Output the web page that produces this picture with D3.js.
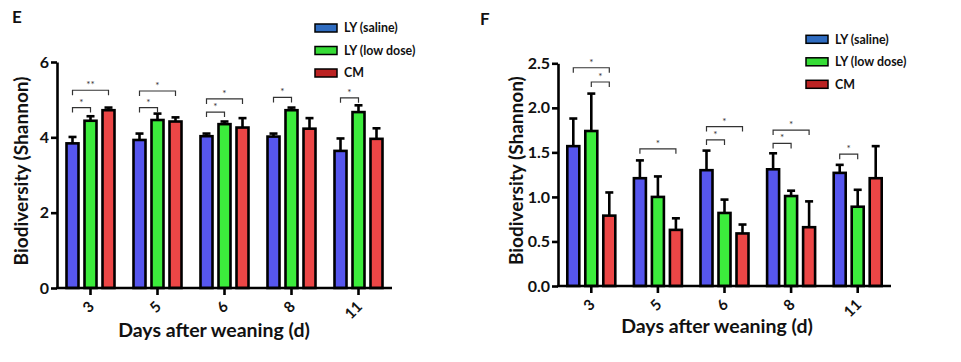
<!DOCTYPE html>
<html>
<head>
<meta charset="utf-8">
<script src="https://cdn.jsdelivr.net/npm/d3@7"></script>
<style>
  body { margin: 0; background: #fff; }
  svg { font-family: Lato, 'Open Sans', sans-serif; font-weight: 700; }
</style>
</head>
<body>
<div id="chart"></div>
<script>
// Data
const days = ['3', '5', '6', '8', '11']
const seriesNames = ['LY (saline)', 'LY (low dose)', 'CM']

// Panel E (mean and error above mean)
const eSaline = [3.84, 3.93, 4.03, 4.02, 3.64]
const eSalineErr = [0.17, 0.17, 0.07, 0.08, 0.33]
const eLow = [4.44, 4.46, 4.35, 4.72, 4.67]
const eLowErr = [0.12, 0.17, 0.07, 0.07, 0.18]
const eCm = [4.72, 4.42, 4.26, 4.23, 3.96]
const eCmErr = [0.07, 0.11, 0.25, 0.28, 0.28]
const eTicks = [0, 2, 4, 6]
// [day, from series, to series, y, label]
const eSig = [
  ['3', 0, 1, 4.79, '*'], ['3', 0, 2, 5.25, '**'],
  ['5', 0, 1, 4.79, '*'], ['5', 0, 2, 5.23, '*'],
  ['6', 0, 1, 4.67, '*'], ['6', 0, 2, 5.02, '*'],
  ['8', 0, 1, 5.06, '*'],
  ['11', 0, 1, 5.05, '*'],
]

// Panel F
const fSaline = [1.57, 1.21, 1.30, 1.31, 1.27]
const fSalineErr = [0.31, 0.20, 0.22, 0.18, 0.09]
const fLow = [1.74, 1.00, 0.82, 1.01, 0.89]
const fLowErr = [0.42, 0.23, 0.15, 0.06, 0.19]
const fCm = [0.79, 0.63, 0.59, 0.66, 1.21]
const fCmErr = [0.26, 0.13, 0.10, 0.29, 0.36]
const fTicks = [0, 0.5, 1.0, 1.5, 2.0, 2.5]
const fSig = [
  ['3', 0, 2, 2.45, '*'], ['3', 1, 2, 2.29, '*'],
  ['5', 0, 2, 1.54, '*'],
  ['6', 0, 1, 1.64, '*'], ['6', 0, 2, 1.79, '*'],
  ['8', 0, 1, 1.60, '*'], ['8', 0, 2, 1.75, '*'],
  ['11', 0, 1, 1.48, '*'],
]

const barColors = ['#5656ee', '#3cec3c', '#ec4646']
const legendColors = ['#2f6cc0', '#36dc36', '#bb2222']

const svg = d3.select('#chart')
  .append('svg')
  .attr('width', 961)
  .attr('height', 362)

function drawPanel(p) {
  const g = svg.append('g')

  const xScale = d3.scaleBand()
    .domain(days)
    .range([p.x0, p.x1])

  const inner = d3.scaleBand()
    .domain(d3.range(3))
    .range([-27, 27])

  const yScale = d3.scaleLinear()
    .domain(p.domain)
    .range([p.y0, p.y1])

  const rows = []
  p.means.forEach((arr, s) => {
    arr.forEach((v, i) => {
      rows.push({ day: days[i], s: s, v: v, err: p.errs[s][i] })
    })
  })

  const cx = (day, s) => xScale(day) + xScale.bandwidth() / 2 + inner(s) + inner.bandwidth() / 2

  // Error bars (upper only)
  const eb = g.append('g')
    .selectAll('g')
    .data(rows)
    .join('g')
    .attr('stroke', '#000')
    .attr('stroke-width', 2.6)
  eb.append('line')
    .attr('x1', d => cx(d.day, d.s))
    .attr('x2', d => cx(d.day, d.s))
    .attr('y1', d => yScale(d.v))
    .attr('y2', d => yScale(d.v + d.err))
  eb.append('line')
    .attr('x1', d => cx(d.day, d.s) - 4)
    .attr('x2', d => cx(d.day, d.s) + 4)
    .attr('y1', d => yScale(d.v + d.err))
    .attr('y2', d => yScale(d.v + d.err))

  // Bars
  g.append('g')
    .selectAll('rect')
    .data(rows)
    .join('rect')
    .attr('x', d => xScale(d.day) + xScale.bandwidth() / 2 + inner(d.s) + 3)
    .attr('y', d => yScale(d.v))
    .attr('width', inner.bandwidth() - 6)
    .attr('height', d => yScale(p.domain[0]) - yScale(d.v))
    .attr('fill', d => barColors[d.s])
    .attr('stroke', '#000')
    .attr('stroke-width', 2.6)

  // Axes
  const yAxis = d3.axisLeft(yScale)
    .tickValues(p.ticks)
    .tickFormat(p.fmt)
    .tickSize(6)
    .tickSizeOuter(0)
    .tickPadding(2)
  const yg = g.append('g')
    .attr('transform', `translate(${p.x0}, 0)`)
    .call(yAxis)
  yg.selectAll('path, line').attr('stroke', '#000').attr('stroke-width', 2.6)
  yg.selectAll('text')
    .attr('font-size', 16)
    .attr('font-weight', 700)
    .attr('font-family', 'Lato, sans-serif')
    .attr('fill', '#111')

  const xAxis = d3.axisBottom(xScale)
    .tickSize(7)
    .tickSizeOuter(0)
  const xg = g.append('g')
    .attr('transform', `translate(0, ${yScale(p.domain[0])})`)
    .call(xAxis)
  xg.select('.domain').attr('d', `M${p.x0 - 1},0H${p.x1}`)
  xg.selectAll('path, line').attr('stroke', '#000').attr('stroke-width', 2.6)
  xg.selectAll('text')
    .attr('font-size', 15)
    .attr('font-weight', 700)
    .attr('font-family', 'Lato, sans-serif')
    .attr('fill', '#111')
    .attr('text-anchor', 'end')
    .attr('x', 0)
    .attr('y', 0)
    .attr('dy', '0.35em')
    .attr('transform', 'translate(1, 16) rotate(-45)')

  // Significance brackets
  const sg = g.append('g')
    .selectAll('g')
    .data(p.sig)
    .join('g')
  sg.append('path')
    .attr('d', d => {
      const a = cx(d[0], d[1])
      const b = cx(d[0], d[2])
      const y = yScale(d[3])
      return `M${a},${y + 5}V${y}H${b}V${y + 5}`
    })
    .attr('fill', 'none')
    .attr('stroke', '#333')
    .attr('stroke-width', 1.2)
  sg.append('text')
    .attr('x', d => (cx(d[0], d[1]) + cx(d[0], d[2])) / 2)
    .attr('y', d => yScale(d[3]) - 2)
    .attr('text-anchor', 'middle')
    .attr('font-size', 10)
    .attr('font-weight', 400)
    .attr('fill', '#333')
    .text(d => d[4])

  // Titles
  g.append('text')
    .attr('transform', `translate(${p.yTitleX}, ${(p.y0 + p.y1) / 2 - 4}) rotate(-90)`)
    .attr('text-anchor', 'middle')
    .attr('dy', '0.35em')
    .attr('font-size', 19)
    .attr('fill', '#111')
    .text('Biodiversity (Shannon)')

  g.append('text')
    .attr('x', p.xTitleX)
    .attr('y', p.xTitleY)
    .attr('text-anchor', 'middle')
    .attr('font-size', 19.5)
    .attr('fill', '#111')
    .text('Days after weaning (d)')

  g.append('text')
    .attr('x', p.labelX)
    .attr('y', p.labelY)
    .attr('font-size', 17)
    .attr('fill', '#111')
    .text(p.label)

  // Legend
  const lg = g.append('g')
    .selectAll('g')
    .data(seriesNames)
    .join('g')
    .attr('transform', (d, i) => `translate(${p.legX}, ${p.legY + i * 22.5})`)
  lg.append('rect')
    .attr('x', 0)
    .attr('y', -4)
    .attr('width', 22)
    .attr('height', 8)
    .attr('fill', (d, i) => legendColors[i])
    .attr('stroke', '#000')
    .attr('stroke-width', 1.5)
  lg.append('text')
    .attr('x', 29)
    .attr('dy', '0.35em')
    .attr('font-size', 12.4)
    .attr('fill', '#111')
    .text(d => d)
}

drawPanel({
  label: 'E', labelX: 12, labelY: 23,
  x0: 57, x1: 392, y0: 288, y1: 62, domain: [0, 6], ticks: eTicks, fmt: d3.format('d'),
  means: [eSaline, eLow, eCm], errs: [eSalineErr, eLowErr, eCmErr], sig: eSig,
  yTitleX: 21, xTitleX: 214, xTitleY: 337,
  legX: 315, legY: 28,
})

drawPanel({
  label: 'F', labelX: 480, labelY: 25,
  x0: 558, x1: 891, y0: 286, y1: 63.3, domain: [0, 2.5], ticks: fTicks, fmt: d3.format('.1f'),
  means: [fSaline, fLow, fCm], errs: [fSalineErr, fLowErr, fCmErr], sig: fSig,
  yTitleX: 516, xTitleX: 717, xTitleY: 333,
  legX: 806, legY: 39.3,
})
</script>
</body>
</html>
